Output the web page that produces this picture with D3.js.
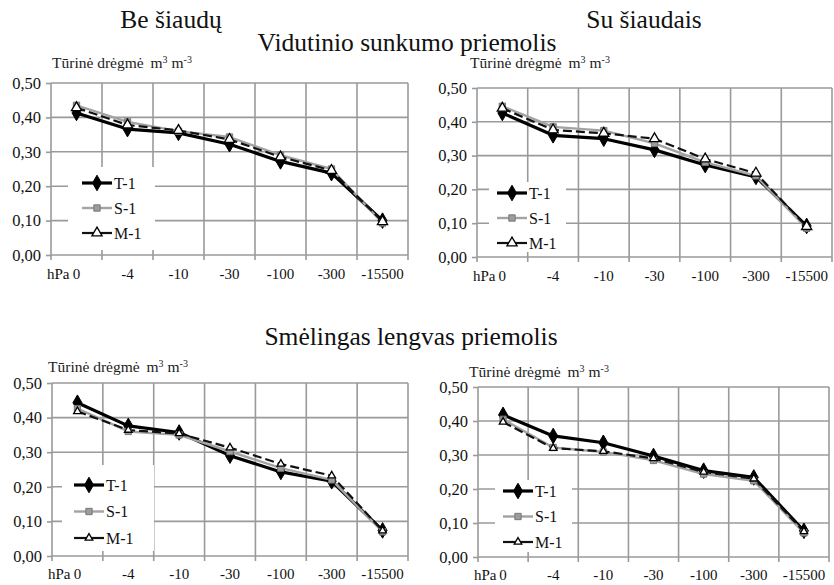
<!DOCTYPE html>
<html><head><meta charset="utf-8">
<script src="https://cdn.jsdelivr.net/npm/d3@7"></script>
<style>
body{margin:0;background:#fff;}
svg{display:block;}
text{font-family:'Liberation Serif';}
</style></head>
<body>
<svg id="c" width="834" height="585"></svg>
<script>
// ---- data ----
const categories = ["0","-4","-10","-30","-100","-300","-15500"];
const seriesNames = ["T-1","S-1","M-1"];
const yTicks = [0,0.1,0.2,0.3,0.4,0.5];
const titleTopLeft = "Be šiaudų";
const titleTopRight = "Su šiaudais";
const soil1 = "Vidutinio sunkumo priemolis";
const soil2 = "Smėlingas lengvas priemolis";
// Vidutinio sunkumo priemolis, be šiaudų
const vsBeT1 = [0.413,0.366,0.355,0.322,0.272,0.238,0.100];
const vsBeS1 = [0.435,0.387,0.360,0.343,0.290,0.250,0.093];
const vsBeM1 = [0.428,0.378,0.362,0.336,0.285,0.246,0.097];
// Vidutinio sunkumo priemolis, su šiaudais
const vsSuT1 = [0.426,0.360,0.350,0.317,0.272,0.237,0.092];
const vsSuS1 = [0.446,0.385,0.374,0.336,0.280,0.240,0.085];
const vsSuM1 = [0.440,0.376,0.366,0.350,0.290,0.248,0.090];
// Smėlingas lengvas priemolis, be šiaudų
const slBeT1 = [0.443,0.376,0.357,0.290,0.243,0.216,0.074];
const slBeS1 = [0.426,0.360,0.350,0.302,0.254,0.220,0.070];
const slBeM1 = [0.418,0.364,0.354,0.313,0.266,0.232,0.073];
// Smėlingas lengvas priemolis, su šiaudais
const slSuT1 = [0.418,0.356,0.336,0.297,0.254,0.234,0.077];
const slSuS1 = [0.405,0.322,0.309,0.284,0.244,0.224,0.071];
const slSuM1 = [0.397,0.320,0.311,0.290,0.250,0.230,0.075];

const FONT = "Liberation Serif";
const svg = d3.select("#c");
const GRID = "#9a9a9a";

function txt(parent, x, y, size, s){
  return parent.append("text").attr("x",x).attr("y",y)
    .style("font-family",FONT).style("font-size",size+"px").attr("fill","#111").text(s);
}

// titles
txt(svg,171,28,25.5,titleTopLeft).attr("text-anchor","middle");
txt(svg,644,28,25.5,titleTopRight).attr("text-anchor","middle");
txt(svg,407,51,25.5,soil1).attr("text-anchor","middle");
txt(svg,411,345,25.5,soil2).attr("text-anchor","middle");

function panel(cfg, t1, s1, m1){
  const g = svg.append("g");
  const x = d3.scaleBand().domain(categories).range([cfg.x0,cfg.x1]).padding(0);
  const y = d3.scaleLinear().domain([0,0.5]).range([cfg.y1,cfg.y0]);
  const cx = d => x(d)+x.bandwidth()/2;
  g.append("g").selectAll("line").data(yTicks).join("line")
    .attr("x1",cfg.x0).attr("x2",cfg.x1).attr("y1",d=>y(d)).attr("y2",d=>y(d))
    .attr("stroke",GRID).attr("stroke-width",1.6);
  const bounds = categories.map(c=>x(c)).concat([cfg.x1]);
  g.append("g").selectAll("line").data(bounds).join("line")
    .attr("x1",d=>d).attr("x2",d=>d).attr("y1",cfg.y0).attr("y2",cfg.y1+5)
    .attr("stroke",GRID).attr("stroke-width",1.6);
  const ya = d3.axisLeft(y).tickValues(yTicks).tickSize(5).tickPadding(5)
    .tickFormat(d=>d.toFixed(2).replace(".",","));
  const yg = g.append("g").attr("transform",`translate(${cfg.x0},0)`).call(ya);
  yg.attr("font-family",null).attr("font-size",null);
  yg.select(".domain").remove();
  yg.selectAll(".tick line").attr("stroke",GRID).attr("stroke-width",1.6);
  yg.selectAll("text").style("font-family",FONT).style("font-size","16.5px").attr("fill","#111");
  const xa = d3.axisBottom(x).tickSize(0).tickPadding(0);
  const xg = g.append("g").attr("transform",`translate(0,${cfg.y1})`).call(xa);
  xg.attr("font-family",null).attr("font-size",null);
  xg.select(".domain").remove();
  xg.selectAll("text").style("font-family",FONT).style("font-size","15px").attr("fill","#111")
    .attr("dy",null).attr("y",cfg.lab);
  txt(g,cfg.x0-4,cfg.y1+cfg.lab,15,"hPa");
  const yl = txt(g,cfg.lx,cfg.ly,15.5,"").attr("fill","#222");
  yl.append("tspan").text("Tūrinė drėgmė ");
  yl.append("tspan").attr("dx",3).text("m");
  yl.append("tspan").style("font-size","10px").attr("dy",-5).text("3");
  yl.append("tspan").attr("dy",5).text(" m");
  yl.append("tspan").style("font-size","10px").attr("dy",-5).text("-3");

  const line = d3.line().x((d,i)=>cx(categories[i])).y(d=>y(d));
  const series = [
    {name:seriesNames[0], vals:t1, stroke:"#000", w:3.2, dash:null},
    {name:seriesNames[1], vals:s1, stroke:"#a3a3a3", w:2.4, dash:null},
    {name:seriesNames[2], vals:m1, stroke:"#111", w:2.2, dash:"9,4"}
  ];
  const sym = {
    "T-1": d3.symbol().type(d3.symbolDiamond).size(70),
    "S-1": d3.symbol().type(d3.symbolSquare).size(40),
    "M-1": d3.symbol().type(d3.symbolTriangle).size(cfg.triSize)
  };
  function marker(sel, name){
    if(name==="T-1") sel.attr("d",sym[name]()).attr("fill","#000").attr("stroke","#000").attr("stroke-width",1);
    else if(name==="S-1") sel.attr("d",sym[name]()).attr("fill","#9c9c9c").attr("stroke","#777").attr("stroke-width",1);
    else sel.attr("d",sym[name]()).attr("fill","#fff").attr("stroke","#000").attr("stroke-width",1.3);
  }
  series.forEach(s=>{
    g.append("path").datum(s.vals).attr("d",line).attr("fill","none")
      .attr("stroke",s.stroke).attr("stroke-width",s.w).attr("stroke-dasharray",s.dash)
      .attr("stroke-linejoin","round");
  });
  series.forEach(s=>{
    g.append("g").selectAll("path").data(s.vals).join("path")
      .attr("transform",(d,i)=>`translate(${cx(categories[i])},${y(d)})`)
      .each(function(){ marker(d3.select(this), s.name); });
  });
  const L = cfg.leg;
  g.append("rect").attr("x",L.bx0).attr("y",L.by0).attr("width",L.bx1-L.bx0).attr("height",L.by1-L.by0).attr("fill","#fff");
  series.forEach((s,i)=>{
    const yy = L.y + i*L.step;
    g.append("line").attr("x1",L.x).attr("x2",L.x+30).attr("y1",yy).attr("y2",yy)
      .attr("stroke",s.stroke).attr("stroke-width",s.w);
    g.append("path").attr("transform",`translate(${L.x+15},${yy})`).each(function(){ marker(d3.select(this), s.name); });
    txt(g,L.x+32,yy+5.5,16,s.name);
  });
}

panel({x0:51,x1:408,y0:83,y1:255,lab:24,lx:52,ly:68,triSize:45,
  leg:{bx0:68,bx1:155,by0:167,by1:250,x:82,y:183,step:25}}, vsBeT1, vsBeS1, vsBeM1);
panel({x0:477,x1:832,y0:88,y1:257,lab:24,lx:470,ly:68,triSize:45,
  leg:{bx0:489,bx1:566,by0:182,by1:252,x:497,y:193,step:25}}, vsSuT1, vsSuS1, vsSuM1);
panel({x0:52,x1:408,y0:383,y1:556,lab:23,lx:48,ly:372,triSize:25,
  leg:{bx0:62,bx1:154,by0:465,by1:551,x:74,y:485,step:26.5}}, slBeT1, slBeS1, slBeM1);
panel({x0:478,x1:829,y0:387,y1:557,lab:23,lx:469,ly:377,triSize:25,
  leg:{bx0:495,bx1:572,by0:480,by1:552,x:503,y:491,step:25.5}}, slSuT1, slSuS1, slSuM1);
</script>
</body></html>
